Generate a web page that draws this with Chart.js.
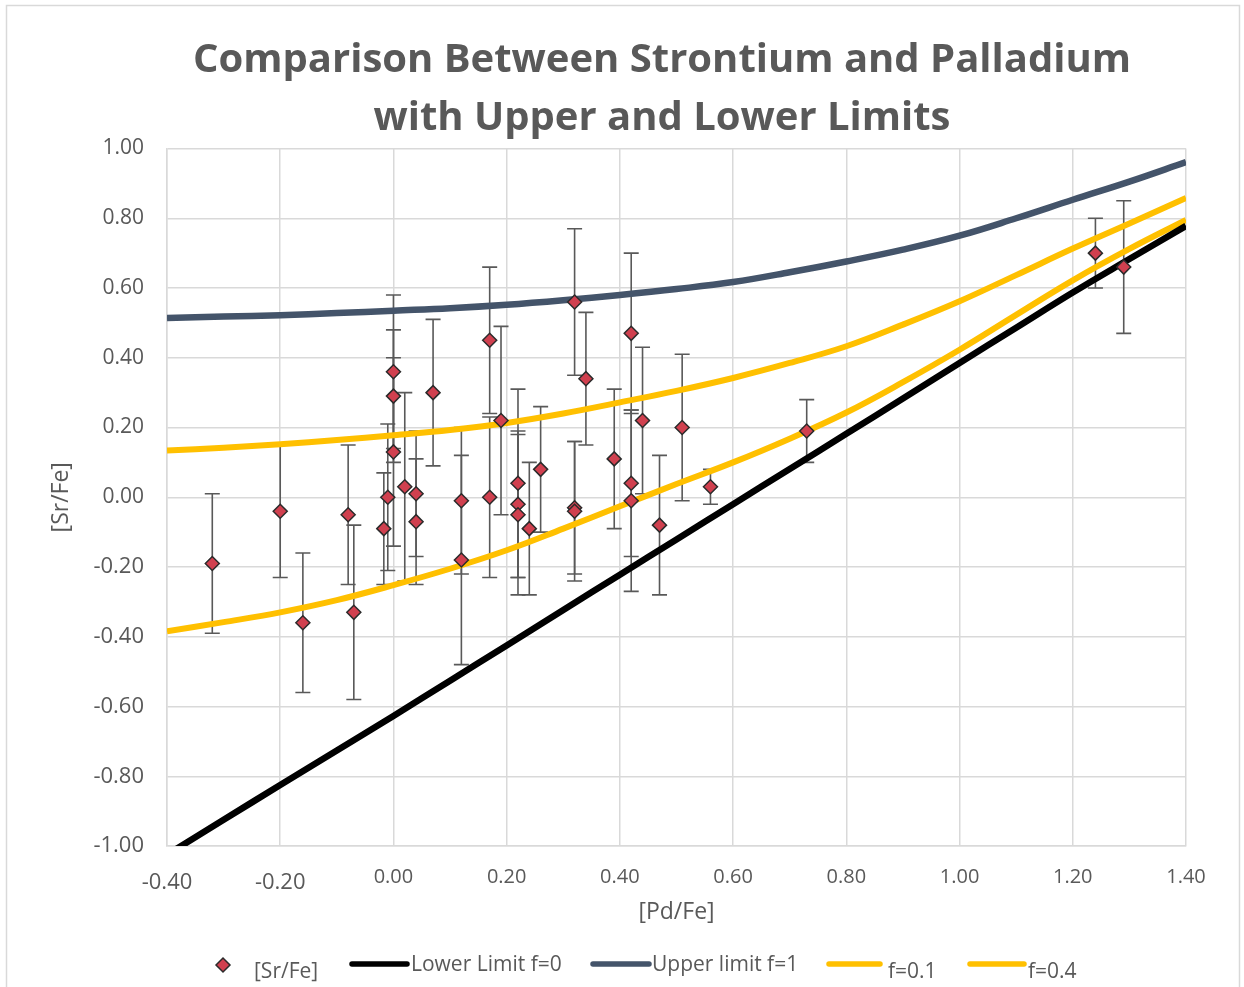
<!DOCTYPE html>
<html>
<head>
<meta charset="utf-8">
<script src="https://cdn.jsdelivr.net/npm/chart.js@4.4.1/dist/chart.umd.min.js"></script>
<style>
  html, body { margin: 0; padding: 0; background: #ffffff; }
  canvas { display: block; }
</style>
</head>
<body>
<canvas id="chart" width="1244" height="987"></canvas>
<script>
// ---- text ----
const titleLines = ['Comparison Between Strontium and Palladium', 'with Upper and Lower Limits'];
const xAxisTitle = '[Pd/Fe]';
const yAxisTitle = '[Sr/Fe]';
const seriesNames = ['[Sr/Fe]', 'Lower Limit f=0', 'Upper limit f=1', 'f=0.1', 'f=0.4'];

// ---- observed stars: [Pd/Fe], [Sr/Fe] and the [Sr/Fe] uncertainty ----
const pdFe = [-0.32, -0.20, -0.16, -0.08, -0.07, -0.017, -0.01, 0.00, 0.00, 0.00,
              0.02, 0.04, 0.04, 0.07, 0.12, 0.12, 0.17, 0.17, 0.19, 0.22,
              0.22, 0.22, 0.24, 0.26, 0.32, 0.32, 0.32, 0.34, 0.39, 0.42,
              0.42, 0.42, 0.44, 0.47, 0.51, 0.56, 0.73, 1.24, 1.29];
const srFe = [-0.19, -0.04, -0.36, -0.05, -0.33, -0.09, 0.00, 0.36, 0.29, 0.13,
              0.03, 0.01, -0.07, 0.30, -0.01, -0.18, 0.45, 0.00, 0.22, 0.04,
              -0.02, -0.05, -0.09, 0.08, 0.56, -0.03, -0.04, 0.34, 0.11, 0.47,
              0.04, -0.01, 0.22, -0.08, 0.20, 0.03, 0.19, 0.70, 0.66];
const srErr = [0.20, 0.19, 0.20, 0.20, 0.25, 0.16, 0.21, 0.22, 0.19, 0.27,
               0.27, 0.18, 0.18, 0.21, 0.21, 0.30, 0.21, 0.23, 0.27, 0.27,
               0.21, 0.23, 0.19, 0.18, 0.21, 0.19, 0.20, 0.19, 0.20, 0.23,
               0.21, 0.26, 0.21, 0.20, 0.21, 0.05, 0.09, 0.10, 0.19];

// ---- mixing curves, sampled along [Pd/Fe] ----
const modelX = [-0.4, -0.3, -0.2, -0.1, 0.0, 0.1, 0.2, 0.3, 0.4, 0.5,
                0.6, 0.7, 0.8, 0.9, 1.0, 1.1, 1.2, 1.3, 1.4];
const lowerLimit = [-1.025, -0.925, -0.825, -0.726, -0.627, -0.526, -0.425, -0.323, -0.222, -0.121,
                    -0.020, 0.081, 0.182, 0.283, 0.385, 0.486, 0.587, 0.683, 0.778];
const upperLimit = [0.514, 0.518, 0.522, 0.528, 0.535, 0.542, 0.552, 0.565, 0.580, 0.597,
                    0.617, 0.645, 0.676, 0.710, 0.750, 0.800, 0.853, 0.905, 0.961];
const mixF01 = [-0.384, -0.358, -0.330, -0.295, -0.252, -0.205, -0.152, -0.090, -0.026, 0.038,
                0.100, 0.168, 0.243, 0.330, 0.423, 0.523, 0.622, 0.712, 0.795];
const mixF04 = [0.134, 0.142, 0.152, 0.164, 0.178, 0.193, 0.213, 0.240, 0.272, 0.305,
                0.342, 0.385, 0.433, 0.495, 0.562, 0.637, 0.713, 0.785, 0.858];

// ---- axis ticks ----
const xRange = [-0.4, 1.4], xStep = 0.2;
const yRange = [-1.0, 1.0], yStep = 0.2;

const FONT = "'Open Sans', 'DejaVu Sans', sans-serif";
const TEXT = '#595959';
const GRID = '#d9d9d9';
const fmt = v => (Math.abs(v) < 1e-9 ? 0 : v).toFixed(2);
const pts = (xs, ys) => xs.map((x, i) => ({ x: x, y: ys[i] }));

const curve = (label, ys, color, width) => ({
  label: label,
  data: pts(modelX, ys),
  showLine: true,
  borderColor: color,
  backgroundColor: color,
  borderWidth: width,
  pointRadius: 0,
  tension: 0.4,
  clip: 0
});

// light frame round the whole chart
const framePlugin = {
  id: 'frame',
  beforeDraw(chart) {
    const ctx = chart.ctx;
    ctx.save();
    ctx.fillStyle = '#ffffff';
    ctx.fillRect(0, 0, chart.width, chart.height);
    ctx.strokeStyle = GRID;
    ctx.lineWidth = 1.5;
    ctx.strokeRect(6.5, 5.5, chart.width - 11, chart.height + 20);
    ctx.restore();
  }
};

// vertical uncertainty whiskers with caps, under the curves and markers
const errorBarPlugin = {
  id: 'errorBars',
  beforeDatasetsDraw(chart) {
    const { ctx, scales } = chart;
    const xs = scales.x, ys = scales.y;
    ctx.save();
    ctx.strokeStyle = '#595959';
    ctx.lineWidth = 1.6;
    const cap = 7.5;
    pdFe.forEach((v, i) => {
      const px = xs.getPixelForValue(v);
      const top = ys.getPixelForValue(srFe[i] + srErr[i]);
      const bot = ys.getPixelForValue(srFe[i] - srErr[i]);
      ctx.beginPath();
      ctx.moveTo(px, top); ctx.lineTo(px, bot);
      ctx.moveTo(px - cap, top); ctx.lineTo(px + cap, top);
      ctx.moveTo(px - cap, bot); ctx.lineTo(px + cap, bot);
      ctx.stroke();
    });
    ctx.restore();
  }
};

// two-line bold heading
const headingPlugin = {
  id: 'heading',
  afterDraw(chart) {
    const ctx = chart.ctx;
    ctx.save();
    ctx.fillStyle = TEXT;
    ctx.font = "bold 40px " + FONT;
    ctx.textAlign = 'center';
    ctx.textBaseline = 'alphabetic';
    ctx.fillText(titleLines[0], 662, 71.5);
    ctx.fillText(titleLines[1], 662, 129.5);
    ctx.restore();
  }
};

// legend row along the bottom edge
const legendPlugin = {
  id: 'legendRow',
  afterDraw(chart) {
    const ctx = chart.ctx;
    const ds = chart.data.datasets;
    ctx.save();
    ctx.font = "21px " + FONT;
    ctx.fillStyle = TEXT;
    ctx.textAlign = 'left';
    ctx.textBaseline = 'middle';
    // marker entry
    const mx = 223, my = 965, r = 7;
    ctx.beginPath();
    ctx.moveTo(mx - r, my); ctx.lineTo(mx, my - r); ctx.lineTo(mx + r, my); ctx.lineTo(mx, my + r);
    ctx.closePath();
    ctx.fillStyle = ds[0].backgroundColor;
    ctx.fill();
    ctx.strokeStyle = ds[0].borderColor;
    ctx.lineWidth = 1.5;
    ctx.stroke();
    ctx.fillStyle = TEXT;
    ctx.fillText(ds[0].label, 254, 972);
    // line entries
    const entries = [
      { i: 1, x0: 352, x1: 407, tx: 411, ty: 965 },
      { i: 2, x0: 593, x1: 649, tx: 652, ty: 965 },
      { i: 3, x0: 829, x1: 880, tx: 888, ty: 972 },
      { i: 4, x0: 970, x1: 1024, tx: 1028, ty: 972 }
    ];
    entries.forEach(e => {
      ctx.beginPath();
      ctx.strokeStyle = ds[e.i].borderColor;
      ctx.lineWidth = 5.5;
      ctx.lineCap = 'round';
      ctx.moveTo(e.x0, 964); ctx.lineTo(e.x1, 964);
      ctx.stroke();
      ctx.fillText(ds[e.i].label, e.tx, e.ty);
    });
    ctx.restore();
  }
};

new Chart(document.getElementById('chart'), {
  type: 'scatter',
  data: {
    datasets: [
      {
        label: seriesNames[0],
        data: pts(pdFe, srFe),
        pointStyle: 'rectRot',
        pointRadius: 7,
        backgroundColor: '#d0404f',
        borderColor: '#2b2b2b',
        borderWidth: 1.5,
        showLine: false
      },
      curve(seriesNames[1], lowerLimit, '#000000', 6.5),
      curve(seriesNames[2], upperLimit, '#44546a', 6.5),
      curve(seriesNames[3], mixF01, '#ffc000', 6),
      curve(seriesNames[4], mixF04, '#ffc000', 6)
    ]
  },
  options: {
    responsive: false,
    animation: false,
    events: [],
    layout: { padding: { top: 148.5, right: 58, bottom: 51, left: 0 } },
    plugins: {
      legend: { display: false },
      tooltip: { enabled: false },
      title: { display: false }
    },
    scales: {
      x: {
        type: 'linear',
        min: xRange[0], max: xRange[1],
        afterFit(s) { s.height = 90; },
        ticks: {
          stepSize: xStep,
          autoSkip: false,
          maxRotation: 0,
          padding: 19,
          color: TEXT,
          callback: v => fmt(v),
          font: c => (c.tick && c.tick.value < -1e-9)
            ? { family: FONT, size: 22, lineHeight: '36px' }
            : { family: FONT, size: 20, lineHeight: '24px' }
        },
        grid: { color: GRID, lineWidth: 1.5, drawTicks: false },
        border: { color: GRID, width: 1.5 },
        title: {
          display: true, text: xAxisTitle, color: TEXT,
          font: { family: FONT, size: 23 },
          padding: { top: 0, bottom: 10 }
        }
      },
      y: {
        type: 'linear',
        min: yRange[0], max: yRange[1],
        afterFit(s) { s.width = 167; },
        ticks: {
          stepSize: yStep,
          padding: 23,
          color: TEXT,
          callback: v => fmt(v),
          font: c => (c.tick && c.tick.value < -1e-9)
            ? { family: FONT, size: 22 }
            : { family: FONT, size: 21 }
        },
        grid: { color: GRID, lineWidth: 1.5, drawTicks: false },
        border: { color: GRID, width: 1.5 },
        title: {
          display: true, text: yAxisTitle, color: TEXT,
          font: { family: FONT, size: 23 },
          padding: { top: 48, bottom: 0 }
        }
      }
    }
  },
  plugins: [framePlugin, errorBarPlugin, headingPlugin, legendPlugin]
});
</script>
</body>
</html>
